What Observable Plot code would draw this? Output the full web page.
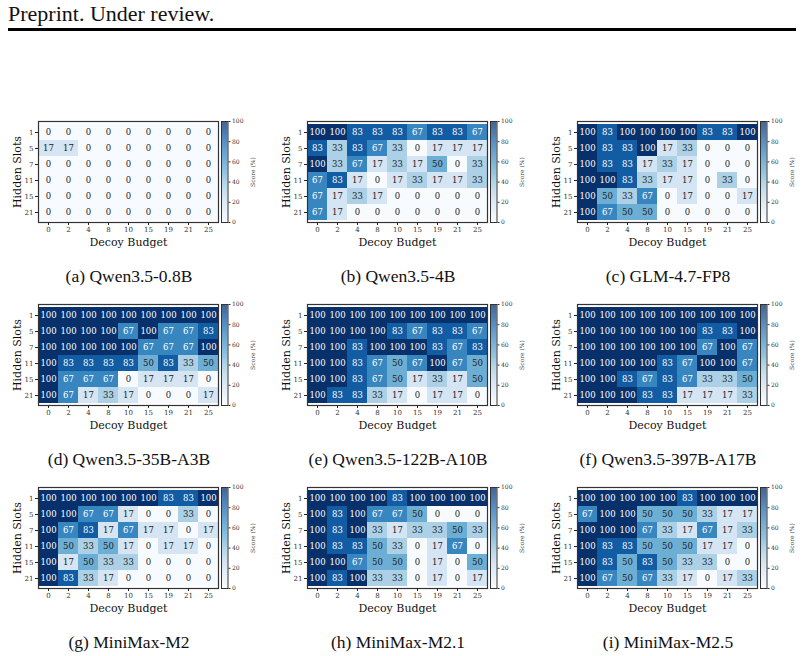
<!DOCTYPE html>
<html>
<head>
<meta charset="utf-8">
<script src="https://cdn.jsdelivr.net/npm/d3@7"></script>
<script src="https://cdn.jsdelivr.net/npm/@observablehq/plot@0.6"></script>
<style>
  html, body { margin: 0; padding: 0; background: #fff; }
  #root { position: relative; width: 804px; height: 656px; overflow: hidden; background: #fff; }
  .abs { position: absolute; }
  .cap { position: absolute; font-family: "Liberation Serif", serif; font-size: 17.5px; color: #111; white-space: nowrap; transform: translateX(-50%); line-height: 1; }
  #hdr { position: absolute; left: 8px; top: 3px; font-family: "Liberation Serif", serif; font-size: 22px; color: #111; line-height: 1; white-space: nowrap; }
  #rule { position: absolute; left: 8px; top: 28px; width: 788px; height: 3px; background: #000; }
  svg text { font-family: "DejaVu Serif", serif; }
</style>
</head>
<body>
<div id="root">
  <div id="hdr">Preprint. Under review.</div>
  <div id="rule"></div>
</div>
<script>
// ---- data ----
const budgets = ["0","2","4","8","10","15","19","21","25"];
const slots = ["1","5","7","11","15","21"];
const cbTicks = [0, 20, 40, 60, 80, 100];
const captions = ["(a) Qwen3.5-0.8B","(b) Qwen3.5-4B","(c) GLM-4.7-FP8","(d) Qwen3.5-35B-A3B","(e) Qwen3.5-122B-A10B","(f) Qwen3.5-397B-A17B","(g) MiniMax-M2","(h) MiniMax-M2.1","(i) MiniMax-M2.5"];

const qwen08 = [
  [0,0,0,0,0,0,0,0,0],
  [17,17,0,0,0,0,0,0,0],
  [0,0,0,0,0,0,0,0,0],
  [0,0,0,0,0,0,0,0,0],
  [0,0,0,0,0,0,0,0,0],
  [0,0,0,0,0,0,0,0,0]
];
const qwen4 = [
  [100,100,83,83,83,67,83,83,67],
  [83,33,83,67,33,0,17,17,17],
  [100,33,67,17,33,17,50,0,33],
  [67,83,17,0,17,33,17,17,33],
  [67,17,33,17,0,0,0,0,0],
  [67,17,0,0,0,0,0,0,0]
];
const glm47 = [
  [100,83,100,100,100,100,83,83,100],
  [100,83,83,100,17,33,0,0,0],
  [100,83,83,17,33,17,0,0,0],
  [100,100,83,33,17,17,0,33,0],
  [100,50,33,67,0,17,0,0,17],
  [100,67,50,50,0,0,0,0,0]
];
const qwen35b = [
  [100,100,100,100,100,100,100,100,100],
  [100,100,100,100,67,100,67,67,83],
  [100,100,100,100,100,67,67,67,100],
  [100,83,83,83,83,50,83,33,50],
  [100,67,67,67,0,17,17,17,0],
  [100,67,17,33,17,0,0,0,17]
];
const qwen122b = [
  [100,100,100,100,100,100,100,100,100],
  [100,100,100,100,83,67,83,83,67],
  [100,100,83,100,100,100,83,67,83],
  [100,100,83,67,50,67,100,67,50],
  [100,100,83,67,50,17,33,17,50],
  [100,83,83,33,17,0,17,17,0]
];
const qwen397b = [
  [100,100,100,100,100,100,100,100,100],
  [100,100,100,100,100,100,83,83,100],
  [100,100,100,100,100,100,67,100,67],
  [100,100,100,100,83,67,100,100,67],
  [100,100,83,67,83,67,33,33,50],
  [100,100,100,83,83,17,17,17,33]
];
const minimaxM2 = [
  [100,100,100,100,100,100,83,83,100],
  [100,100,67,67,17,0,0,33,0],
  [100,67,83,17,67,17,17,0,17],
  [100,50,33,50,17,0,17,17,0],
  [100,17,50,33,33,0,0,0,0],
  [100,83,33,17,0,0,0,0,0]
];
const minimaxM21 = [
  [100,100,100,100,83,100,100,100,100],
  [100,83,100,67,67,50,0,0,0],
  [100,83,100,33,17,33,33,50,33],
  [100,83,83,50,33,0,17,67,0],
  [100,100,67,50,50,0,17,0,50],
  [100,83,100,33,33,0,17,0,17]
];
const minimaxM25 = [
  [100,100,100,100,100,83,100,100,100],
  [67,100,100,50,50,50,33,17,17],
  [100,100,100,67,33,17,67,17,33],
  [100,83,83,50,50,50,17,17,0],
  [100,83,50,83,50,33,33,0,0],
  [100,67,50,67,33,17,0,17,33]
];
const matrices = [qwen08, qwen4, glm47, qwen35b, qwen122b, qwen397b, minimaxM2, minimaxM21, minimaxM25];

// ---- layout ----
const colLeft = [38, 307, 577];
const rowTop = [121, 304, 487];
const capTop = [268, 451, 634];
const cellW = 180, cellH = 101;
const mL = 28, mR = 2, mT = 2, mB = 36;
const serif = "DejaVu Serif, serif";
const colorOpts = {type: "linear", scheme: "blues", domain: [0, 100]};

const root = document.getElementById("root");

matrices.forEach((m, k) => {
  const c = k % 3, r = Math.floor(k / 3);
  const data = m.flatMap((row, i) => row.map((v, j) => ({s: slots[i], b: budgets[j], v})));

  const heat = Plot.plot({
    width: mL + cellW + mR,
    height: mT + cellH + mB,
    marginLeft: mL, marginRight: mR, marginTop: mT, marginBottom: mB,
    style: {fontFamily: serif, background: "transparent", overflow: "visible", color: "#222"},
    x: {type: "band", domain: budgets, padding: 0},
    y: {type: "band", domain: slots, padding: 0},
    color: colorOpts,
    marks: [
      Plot.cell(data, {x: "b", y: "s", fill: "v", inset: 0}),
      Plot.text(data, {filter: d => d.v > 50, x: "b", y: "s", text: d => String(d.v), fill: "white", fontSize: 8.5, fontFamily: serif}),
      Plot.text(data, {filter: d => d.v <= 50, x: "b", y: "s", text: d => String(d.v), fill: "#222", fontSize: 8.5, fontFamily: serif}),
      Plot.frame({stroke: "#333", strokeWidth: 1.2}),
      Plot.axisX({tickSize: 3, tickPadding: 2, fontSize: 7, label: null, fill: "#333", fontFamily: serif}),
      Plot.axisY({tickSize: 3, tickPadding: 2, fontSize: 7, label: null, fill: "#333", fontFamily: serif}),
      Plot.text(["Decoy Budget"], {text: d => d, frameAnchor: "bottom", lineAnchor: "middle", textAnchor: "middle", dy: 20, fontSize: 11, fill: "#111", fontFamily: serif}),
      Plot.text(["Hidden Slots"], {text: d => d, frameAnchor: "left", lineAnchor: "middle", textAnchor: "middle", dx: -21, rotate: -90, fontSize: 11, fill: "#111", fontFamily: serif})
    ]
  });
  heat.classList.add("abs");
  heat.style.left = (colLeft[c] - mL) + "px";
  heat.style.top = (rowTop[r] - mT) + "px";
  root.appendChild(heat);

  const cbL = 1, cbW = 6.5, cbR = 40;
  const bar = Plot.plot({
    width: cbL + cbW + cbR,
    height: mT + cellH + 2,
    marginLeft: cbL, marginRight: cbR, marginTop: mT, marginBottom: 2,
    style: {fontFamily: serif, background: "transparent", overflow: "visible", color: "#333"},
    y: {domain: [0, 100]},
    color: colorOpts,
    marks: [
      Plot.rect(d3.range(0, 100, 0.5), {y1: d => d, y2: d => d + 0.5, fill: d => d + 0.25}),
      Plot.frame({stroke: "#333", strokeWidth: 1}),
      Plot.axisY({anchor: "right", ticks: cbTicks, tickSize: 2, tickPadding: 2, fontSize: 6, label: null, fill: "#333", stroke: "#333", fontFamily: serif}),
      Plot.text(["Score (%)"], {text: d => d, frameAnchor: "right", lineAnchor: "middle", textAnchor: "middle", dx: 25, rotate: -90, fontSize: 6, fill: "#444", fontFamily: serif})
    ]
  });
  bar.classList.add("abs");
  bar.style.left = (colLeft[c] + cellW + 3 - cbL) + "px";
  bar.style.top = (rowTop[r] - mT) + "px";
  root.appendChild(bar);

  const cap = document.createElement("div");
  cap.className = "cap";
  cap.textContent = captions[k];
  cap.style.left = (colLeft[c] + cellW / 2 + 1) + "px";
  cap.style.top = capTop[r] + "px";
  root.appendChild(cap);
});
</script>
</body>
</html>
